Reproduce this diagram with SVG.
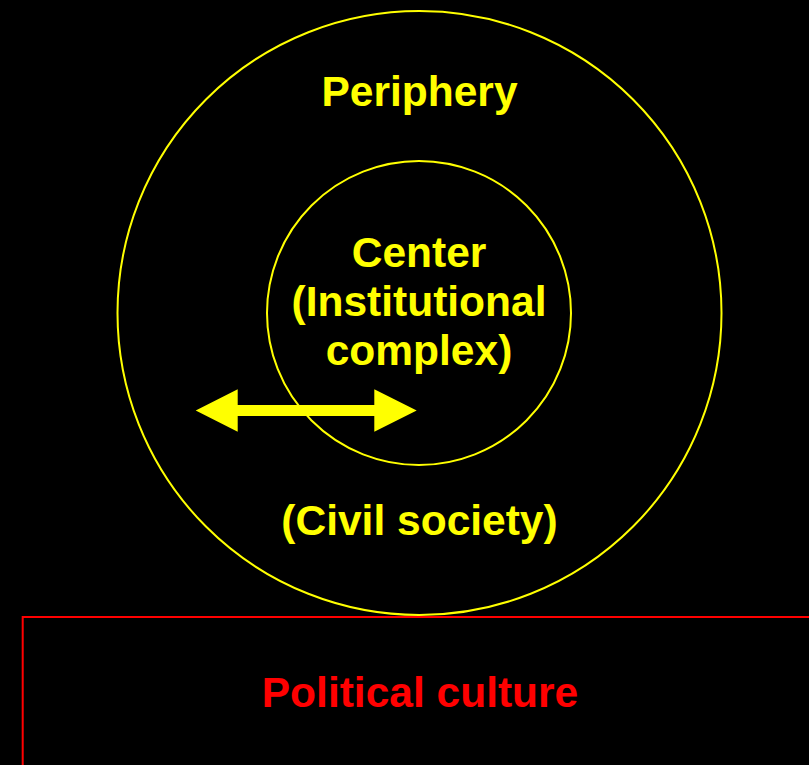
<svg xmlns="http://www.w3.org/2000/svg" width="809" height="765" viewBox="0 0 809 765">
<style>
.ring{fill:none;stroke:#ffff00;stroke-width:2}
.t{font-family:"Liberation Sans",Arial,sans-serif;font-weight:bold;font-size:42.5px;text-anchor:middle}
.y{fill:#ffff00}
.r{fill:#ff0000}
</style>
<rect x="0" y="0" width="809" height="765" fill="#000"/>
<g id="periphery">
<circle class="ring" cx="419.5" cy="313" r="302"/>
<text class="t y" x="419.5" y="106">Periphery</text>
<text class="t y" x="419.5" y="535">(Civil society)</text>
</g>
<g id="center">
<circle class="ring" cx="419" cy="313" r="152"/>
<text class="t y" x="419" y="267">Center</text>
<text class="t y" x="419" y="316">(Institutional</text>
<text class="t y" x="419" y="365">complex)</text>
</g>
<g id="political-culture">
<rect x="22.7" y="617" width="800" height="200" fill="none" stroke="#ff0000" stroke-width="2"/>
<text class="t r" x="420" y="707">Political culture</text>
</g>
<g id="connectors">
<polygon fill="#ffff00" points="195.7,410.5 237.7,389.3 237.7,405 374.3,405 374.3,389.3 416.7,410.5 374.3,431.7 374.3,416 237.7,416 237.7,431.7"/>
</g>
</svg>
